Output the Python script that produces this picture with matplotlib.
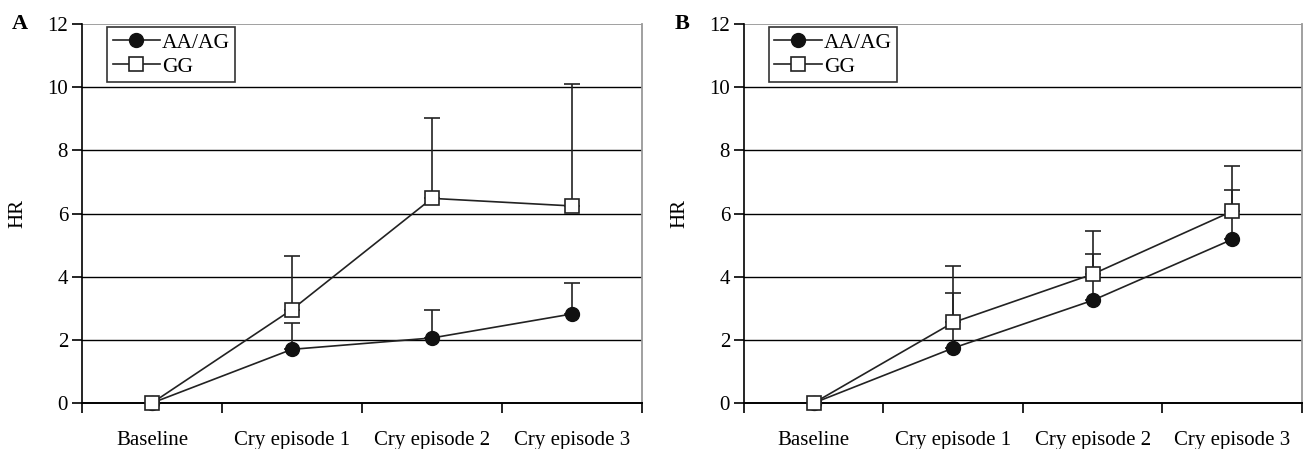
import numpy as np
import matplotlib.pyplot as plt

### Data
categories = ["Baseline", "Cry episode 1", "Cry episode 2", "Cry episode 3"]

# Panel A
a_aa = [0.0, 1.70, 2.06, 2.82]
a_aa_err = [0.0, 0.83, 0.88, 0.98]
a_gg = [0.0, 2.96, 6.48, 6.24]
a_gg_err = [0.0, 1.69, 2.53, 3.85]

# Panel B
b_aa = [0.0, 1.74, 3.25, 5.18]
b_aa_err = [0.0, 1.75, 1.48, 1.55]
b_gg = [0.0, 2.55, 4.08, 6.07]
b_gg_err = [0.0, 1.78, 1.37, 1.43]

yticks = [0, 2, 4, 6, 8, 10, 12]

plt.rcParams['font.family'] = ['Liberation Serif', 'DejaVu Serif']

fig = plt.figure(figsize=(13.07, 4.49), dpi=100)
ax_a = fig.add_axes([0.0627, 0.1024, 0.4285, 0.8441])
ax_b = fig.add_axes([0.5692, 0.1024, 0.4269, 0.8441])


def draw_panel(ax, aa, aa_err, gg, gg_err, letter):
    x = np.arange(len(categories))

    # horizontal grid lines
    for y in yticks[1:-1]:
        ax.axhline(y, color='black', lw=1.0, zorder=1)
    ax.axhline(12, color='#999999', lw=1.3, zorder=1)

    # upper-only error bars (baseline has none)
    for vals, errs in [(aa, aa_err), (gg, gg_err)]:
        v = np.array(vals[1:])
        e = np.array(errs[1:])
        ax.errorbar(x[1:], v, yerr=[np.zeros_like(e), e], fmt='none',
                    ecolor='#222222', elinewidth=1.2, capsize=6, capthick=1.2, zorder=2)

    ax.plot(x, aa, color='#222222', lw=1.2, marker='o', markersize=10,
            markerfacecolor='#111111', markeredgecolor='#111111', label='AA/AG',
            zorder=3, clip_on=False)
    ax.plot(x, gg, color='#222222', lw=1.2, marker='s', markersize=9.5,
            markerfacecolor='white', markeredgecolor='#222222', markeredgewidth=1.2,
            label='GG', zorder=4, clip_on=False)

    ax.set_xlim(-0.5, len(categories) - 0.5)
    ax.set_ylim(0, 12)
    ax.set_yticks(yticks)
    ax.set_yticklabels([str(t) for t in yticks], fontsize=15)
    ax.set_xticks(np.arange(len(categories) + 1) - 0.5)
    ax.set_xticklabels([])
    ax.set_xticks(x, minor=True)
    ax.set_xticklabels(categories, minor=True, fontsize=15)
    ax.tick_params(axis='x', which='major', direction='out', length=7, width=1.2)
    ax.tick_params(axis='x', which='minor', length=0, pad=20)
    ax.tick_params(axis='y', direction='out', length=7, width=1.2, pad=3)

    ax.spines['left'].set_linewidth(1.2)
    ax.spines['bottom'].set_linewidth(1.4)
    ax.spines['right'].set_color('#999999')
    ax.spines['right'].set_linewidth(1.3)
    ax.spines['top'].set_visible(False)

    ax.set_ylabel("HR", fontsize=15, labelpad=14)

    leg = ax.legend(loc='upper left', bbox_to_anchor=(0.045, 0.992), fontsize=15.5,
                    frameon=True, fancybox=False, borderpad=0.25, labelspacing=0.2,
                    handlelength=2.2, handletextpad=0.1, borderaxespad=0)
    leg.get_frame().set_edgecolor('black')
    leg.get_frame().set_linewidth(1.2)
    leg.set_zorder(5)

    ax.text(-0.125, 1.0, letter, transform=ax.transAxes, fontsize=16,
            fontweight='bold', va='center', ha='left')


draw_panel(ax_a, a_aa, a_aa_err, a_gg, a_gg_err, "A")
draw_panel(ax_b, b_aa, b_aa_err, b_gg, b_gg_err, "B")

fig.savefig("out.png", dpi=100)
